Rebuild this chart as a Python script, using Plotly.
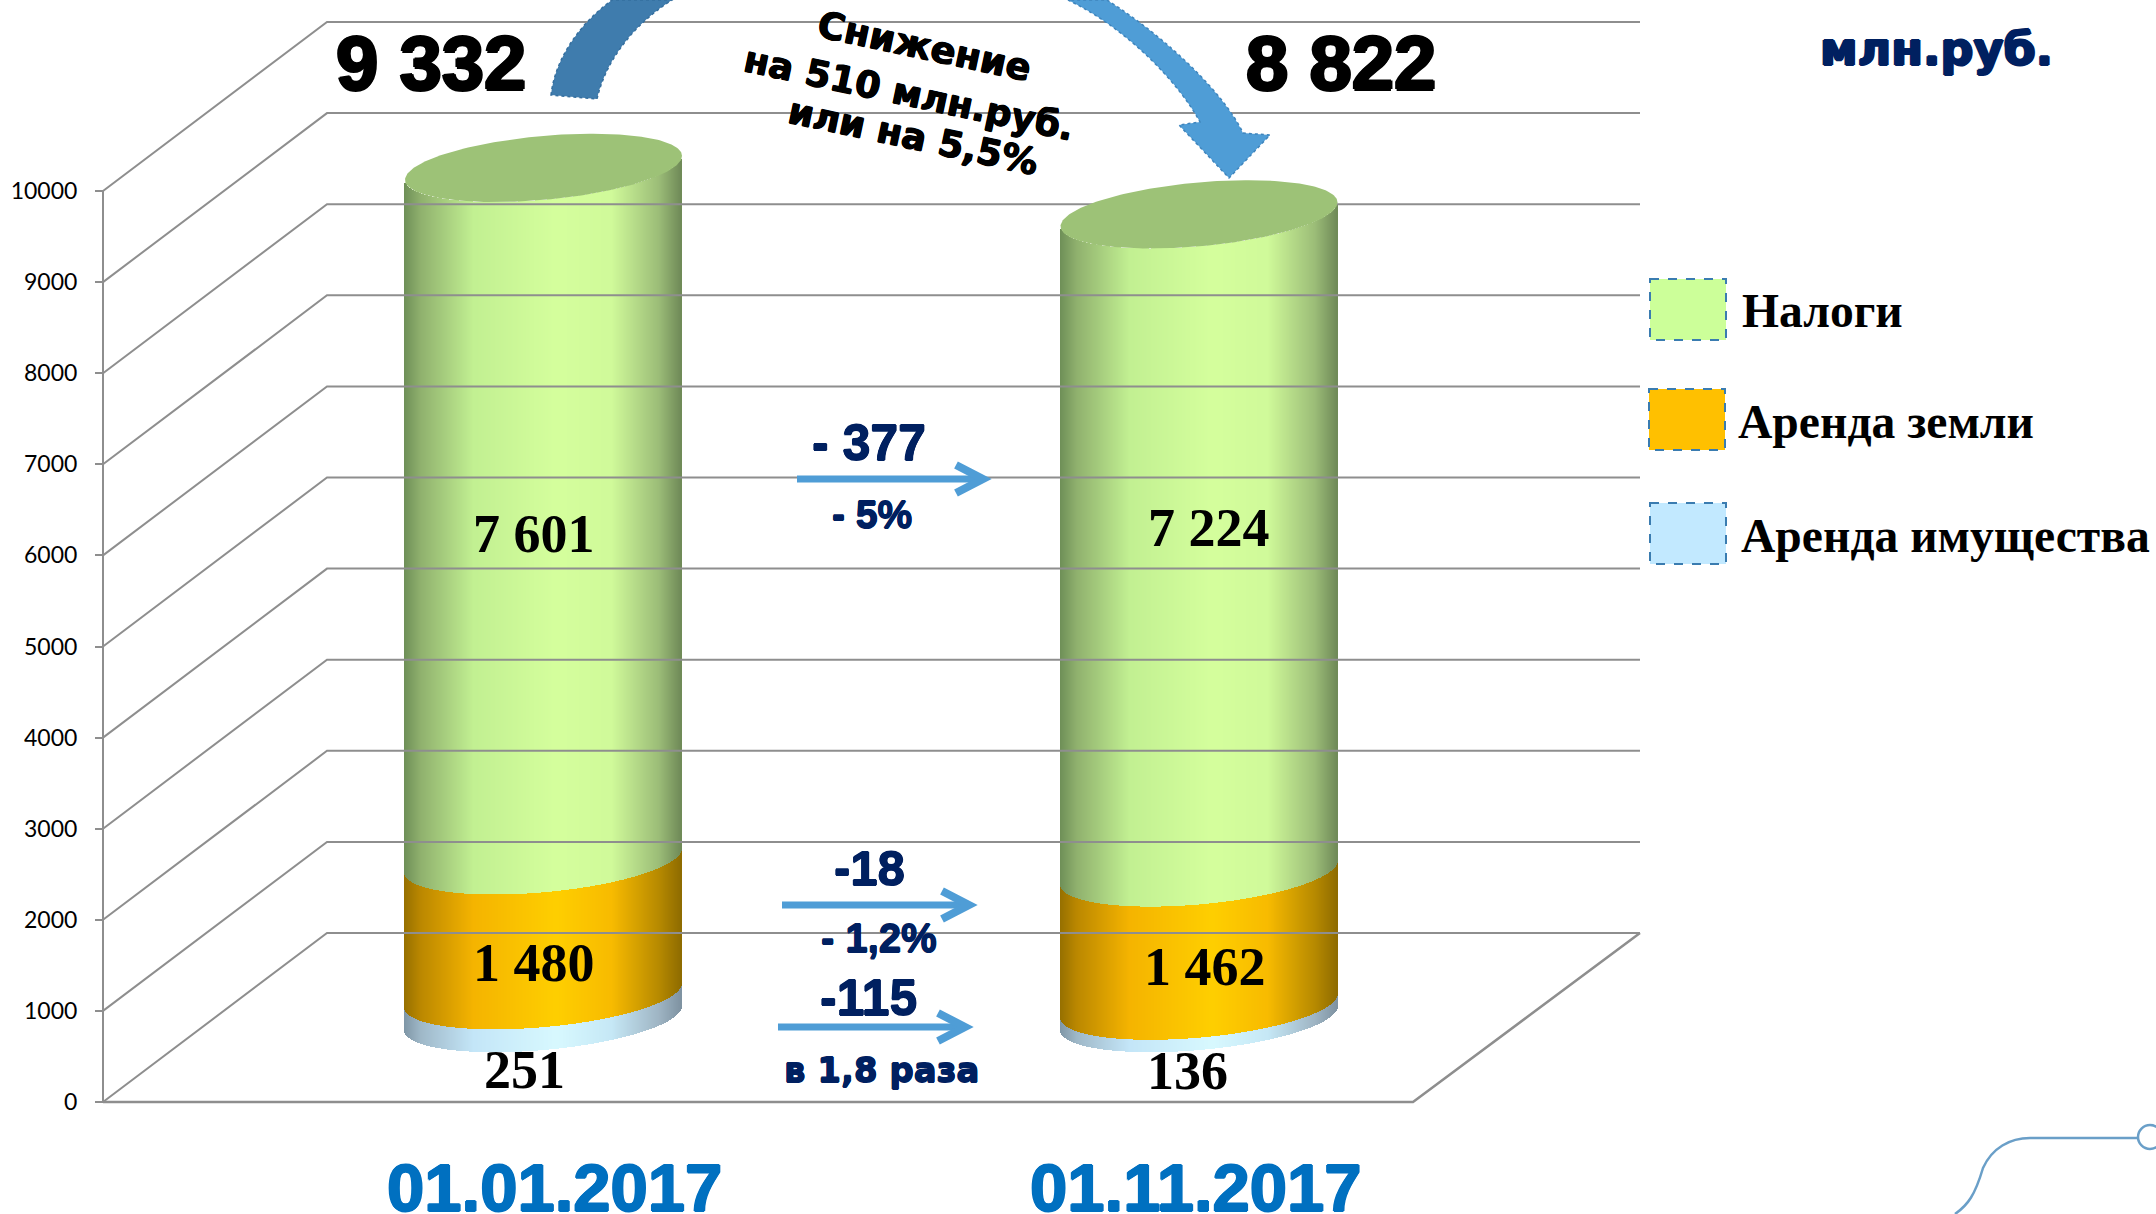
import numpy as np
import plotly.graph_objects as go

# ---------- data ----------
dates = ["01.01.2017", "01.11.2017"]
series_names = ["Аренда имущества", "Аренда земли", "Налоги"]
rent_property = [251, 136]
rent_land = [1480, 1462]
taxes = [7601, 7224]
totals = [9332, 8822]
y_ticks = [0, 1000, 2000, 3000, 4000, 5000, 6000, 7000, 8000, 9000, 10000]

# ---------- layout constants (page pixels) ----------
W, H = 2156, 1214
PX_PER_UNIT = 0.0911
Y0_PX = 1102
AXIS_X, BACK_X, RIGHT_X, FLOOR_RIGHT_X = 103, 327, 1640, 1413
DEPTH = 1855
BASE = 922
CYL_CX = [543.5, 1199.0]
CYL_A = 138.5
ELL_K = 12 / PX_PER_UNIT
ELL_M = 32 / PX_PER_UNIT

GRID = "#8e8e8e"
NAVY = "#002060"
ARROW = "#4f9dd6"

STOPS = [0, .06, .25, .55, .75, .92, 1]
GREEN = ["#6f8f58", "#90b16e", "#c2f092", "#d5ff9d", "#d0fa9a", "#9cbd78", "#6f8a58"]
ORANGE = ["#967000", "#bb8800", "#f5b400", "#ffcf00", "#f8bb00", "#b78a00", "#8f6c00"]
BLUE = ["#7f96a6", "#9fb8c8", "#c4e6f8", "#d8f9ff", "#c6e8f6", "#9fb5c4", "#7f93a2"]
TOP_FILL = "#9dc277"


def ramp(stops, t):
    ch = [[int(c[i:i + 2], 16) for c in stops] for i in (1, 3, 5)]
    vals = [np.interp(t, STOPS, c) for c in ch]
    return ["rgb(%d,%d,%d)" % (r, g, b) for r, g, b in zip(*vals)]


def px(x, y):
    return x / W, 1 - y / H


fig = go.Figure()

# walls: each tick runs from the front axis up the side wall and along the back
for v in y_ticks:
    fig.add_trace(go.Scatter(
        x=[AXIS_X, BACK_X, RIGHT_X], y=[v, v + DEPTH, v + DEPTH], mode="lines",
        line=dict(color=GRID, width=2), hoverinfo="skip", showlegend=False))
fig.add_trace(go.Scatter(
    x=[AXIS_X, FLOOR_RIGHT_X, RIGHT_X], y=[0, 0, DEPTH], mode="lines",
    line=dict(color=GRID, width=2.5), hoverinfo="skip", showlegend=False))

# cylinders: stacked segments, each sliced into 1 px bars to carry the shading
for j, cx in enumerate(CYL_CX):
    n = int(2 * CYL_A)
    xs = cx - CYL_A + (np.arange(n) + .5) * (2 * CYL_A / n)
    u = (xs - cx) / CYL_A
    t = (u + 1) / 2
    front = -ELL_K * u + ELL_M * np.sqrt(1 - u ** 2)
    low = 0
    for name, vals, stops in zip(series_names, [rent_property, rent_land, taxes], [BLUE, ORANGE, GREEN]):
        v = vals[j]
        fig.add_trace(go.Bar(
            x=xs, y=[v] * n, base=BASE + low - front, width=1.35, name=name,
            marker=dict(color=ramp(stops, t), line=dict(width=0)),
            hoverinfo="skip", showlegend=False))
        low += v
    ang = np.linspace(0, 2 * np.pi, 241)
    fig.add_trace(go.Scatter(
        x=cx + CYL_A * np.cos(ang),
        y=BASE + low + ELL_K * np.cos(ang) + ELL_M * np.sin(ang),
        mode="lines", fill="toself", fillcolor=TOP_FILL, line=dict(width=0, color=TOP_FILL),
        hoverinfo="skip", showlegend=False))


def txt(x, y, s, size, color="black", family="Liberation Sans", bold=True, angle=0, shadow=None, anchor="center"):
    fx, fy = px(x, y)
    f = dict(size=size, color=color, family=family, weight=700 if bold else 400)
    if shadow:
        f["shadow"] = shadow
    return dict(x=fx, y=fy, xref="paper", yref="paper", text=s, showarrow=False, xanchor=anchor, yanchor="middle",
                font=f, textangle=angle)


def fmt(v):
    s = str(v)
    return s[:-3] + " " + s[-3:] if len(s) > 3 else s


def halo(color, d=1):
    return f"{d}px 0 0 {color}, -{d}px 0 0 {color}, 0 {d}px 0 {color}, 0 -{d}px 0 {color}"


HEAVY = halo("black", 1.5)
LIGHT = halo("black", .6)
NAVYH = halo(NAVY, .6)
NAVYH2 = halo(NAVY, 1.2)
BLUEH = halo("#0070c0", 1)
SERIF = "Liberation Serif"
ann = []
ann += [txt(431, 62, fmt(totals[0]), 76, shadow=HEAVY), txt(1341, 62, fmt(totals[1]), 76, shadow=HEAVY)]
ann += [txt(924, 46, "Снижение", 37, family="DejaVu Sans", angle=12, shadow=LIGHT),
        txt(909, 93, "на 510 млн.руб.", 36.5, family="DejaVu Sans", angle=12, shadow=LIGHT),
        txt(913, 137, "или на 5,5%", 36.5, family="DejaVu Sans", angle=12, shadow=LIGHT)]
ann += [txt(1936, 49, "млн.руб.", 46, color=NAVY, family="DejaVu Sans", shadow=NAVYH2)]
ann += [txt(869, 443, "- 377", 50, color=NAVY, shadow=NAVYH), txt(872, 514, "- 5%", 39, color=NAVY, shadow=NAVYH),
        txt(869, 868, "-18", 49, color=NAVY, shadow=NAVYH), txt(879, 938, "- 1,2%", 40, color=NAVY, shadow=NAVYH),
        txt(868, 998, "-115", 50, color=NAVY, shadow=NAVYH),
        txt(881, 1070, "в 1,8 раза", 34, color=NAVY, family="DejaVu Sans", shadow=NAVYH)]
ann += [txt(534, 534, fmt(taxes[0]), 54, family=SERIF), txt(1209, 528, fmt(taxes[1]), 54, family=SERIF),
        txt(534, 963, fmt(rent_land[0]), 54, family=SERIF), txt(1205, 967, fmt(rent_land[1]), 54, family=SERIF),
        txt(524, 1070, fmt(rent_property[0]), 54, family=SERIF), txt(1188, 1071, fmt(rent_property[1]), 54, family=SERIF)]
ann += [txt(554, 1187, dates[0], 67, color="#0070c0", shadow=BLUEH),
        txt(1196, 1187, dates[1], 67, color="#0070c0", shadow=BLUEH)]
ann += [txt(1740, 311, "Налоги", 47.6, family=SERIF, anchor="left"),
        txt(1736, 422, "Аренда земли", 47.6, family=SERIF, anchor="left"),
        txt(1739, 536, "Аренда имущества", 47.6, family=SERIF, anchor="left")]


def path(cmds):
    out = []
    for c in cmds:
        if isinstance(c, str):
            out.append(c)
        else:
            fx, fy = px(*c)
            out.append("%.5f %.5f" % (fx, fy))
    return " ".join(out)


shapes = []
for x0, x1, yy in [(797, 985, 479), (782, 971, 905), (778, 967, 1027)]:
    shapes.append(dict(type="path", xref="paper", yref="paper",
                       path=path(["M", (x0, yy - 3.5), "L", (x1 - 6, yy - 3.5), "L", (x1 - 6, yy + 3.5), "L", (x0, yy + 3.5), "Z"]),
                       fillcolor=ARROW, line=dict(width=0)))
    shapes.append(dict(type="path", xref="paper", yref="paper",
                       path=path(["M", (x1 - 29, yy - 14), "L", (x1 - 2, yy), "L", (x1 - 29, yy + 14)]),
                       line=dict(color=ARROW, width=8), fillcolor="rgba(0,0,0,0)"))

# big curved arrows
shapes.append(dict(type="path", xref="paper", yref="paper",
                   path=path(["M", (551, 95), "C", (555, 60), (578, 25), (612, 0), "L", (672, 0),
                              "C", (640, 20), (607, 55), (597, 99), "Z"]),
                   fillcolor="#3f7cad", line=dict(color="#356f9f", width=1.5, dash="dot")))
shapes.append(dict(type="path", xref="paper", yref="paper",
                   path=path(["M", (1107, 0), "C", (1170, 40), (1225, 95), (1243, 133), "L", (1270, 135), "L", (1229, 178),
                              "L", (1179, 125), "L", (1200, 122), "C", (1180, 85), (1130, 30), (1068, 0), "Z"]),
                   fillcolor=ARROW, line=dict(color="#3f85bd", width=1.5, dash="dot")))

# legend swatches
for (x0, y0, x1, y1), col in zip([(1650, 279, 1726, 340), (1649, 389, 1725, 450), (1650, 503, 1726, 564)],
                                 ["#ccff99", "#ffc000", "#c2e9ff"]):
    a, b = px(x0, y0)
    c, d = px(x1, y1)
    shapes.append(dict(type="rect", xref="paper", yref="paper", x0=a, y0=b, x1=c, y1=d, fillcolor=col,
                       line=dict(color="#3a7cb0", width=2, dash="dash")))

# corner ornament
shapes.append(dict(type="path", xref="paper", yref="paper",
                   path=path(["M", (1955, 1214), "C", (1968, 1205), (1975, 1195), (1983, 1168),
                              "C", (1992, 1148), (2010, 1138), (2030, 1138), "L", (2137, 1138)]),
                   line=dict(color="#6a9fc8", width=2.5), fillcolor="rgba(0,0,0,0)"))
a, b = px(2138, 1125)
c, d = px(2162, 1149)
shapes.append(dict(type="circle", xref="paper", yref="paper", x0=a, y0=b, x1=c, y1=d,
                   line=dict(color="#6a9fc8", width=2.5), fillcolor="white"))

fig.update_layout(
    width=W, height=H, autosize=False, margin=dict(l=0, r=0, t=0, b=0, pad=0),
    paper_bgcolor="white", plot_bgcolor="white", barmode="overlay", bargap=0, showlegend=False,
    annotations=ann, shapes=shapes,
    xaxis=dict(range=[0, W], visible=False, fixedrange=True),
    yaxis=dict(range=[(Y0_PX - H) / PX_PER_UNIT, Y0_PX / PX_PER_UNIT], anchor="free", position=AXIS_X / W,
               tickmode="array", tickvals=y_ticks, ticktext=[str(v) for v in y_ticks],
               showgrid=False, zeroline=False, showline=False, ticks="outside", ticklen=8, tickwidth=2, tickcolor=GRID,
               ticklabelstandoff=13,
               tickfont=dict(family="Lato", size=23, color="black"), fixedrange=True),
)
# front vertical axis segment
fig.add_trace(go.Scatter(x=[AXIS_X, AXIS_X], y=[y_ticks[0], y_ticks[-1]], mode="lines",
                         line=dict(color=GRID, width=2), hoverinfo="skip", showlegend=False))

fig.write_html("out.html", config={"displayModeBar": False},
               post_script="document.body.style.margin='0';document.documentElement.style.overflow='hidden';")
